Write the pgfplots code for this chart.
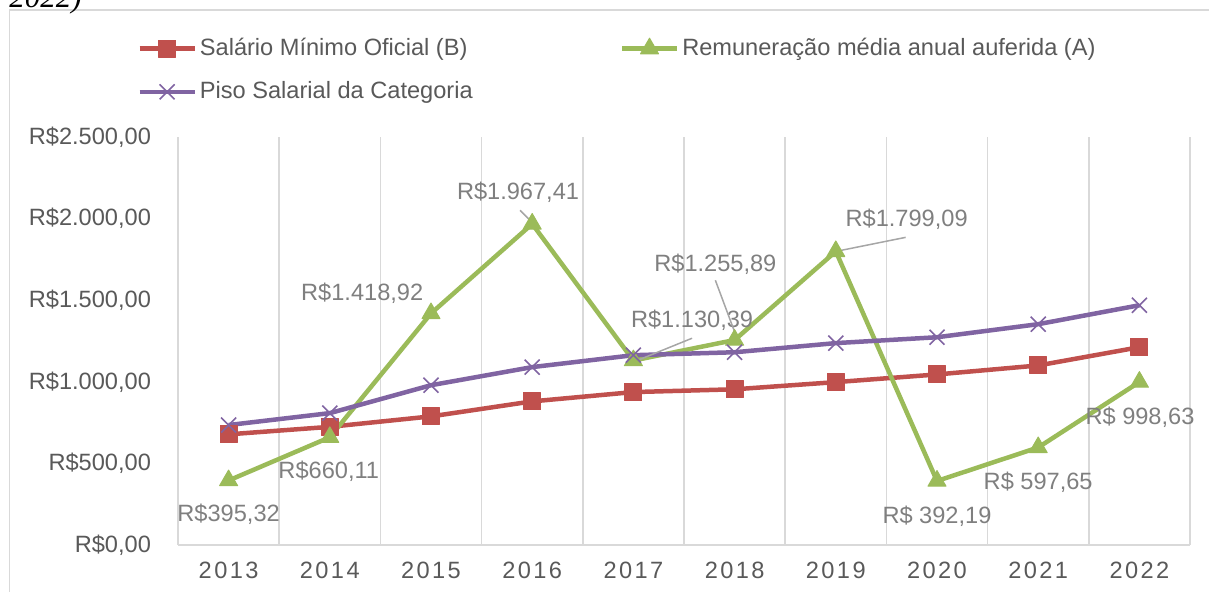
\documentclass[border=0pt]{standalone}
\usepackage{fontspec}
\setmainfont{Liberation Sans}
\newfontfamily\serifit{Liberation Serif}
\usepackage{pgfplots}
\pgfplotsset{compat=1.18}
\definecolor{cred}{HTML}{C0504D}
\definecolor{cgreen}{HTML}{9BBB59}
\definecolor{cpurple}{HTML}{8064A2}
\definecolor{gridc}{HTML}{D9D9D9}
\definecolor{ticktxt}{HTML}{595959}
\definecolor{lbltxt}{HTML}{7F7F7F}
\definecolor{leader}{HTML}{A6A6A6}
\newcommand{\yr}[4]{#1\kern1.2pt#2\kern1.2pt#3\kern1.2pt#4}
\begin{document}
\begin{tikzpicture}
\path[use as bounding box] (-89pt,-23.5pt) rectangle (515.5pt,272.5pt);
\draw[gridc, line width=0.75pt] (-84.25pt,-30pt) -- (-84.25pt,267.5pt) -- (530pt,267.5pt);
\node[anchor=base west, font=\serifit\itshape\fontsize{15.5}{18}\selectfont, inner sep=0pt] at (-84.5pt,268.5pt) {2022)};
\begin{axis}[
  at={(0pt,0pt)}, anchor=south west,
  scale only axis, width=506pt, height=204pt,
  xmin=-0.5, xmax=9.5, ymin=0, ymax=2500,
  axis line style={draw=none},
  xtick={0,1,2,3,4,5,6,7,8,9},
  xticklabels={\yr2013,\yr2014,\yr2015,\yr2016,\yr2017,\yr2018,\yr2019,\yr2020,\yr2021,\yr2022},
  minor xtick={-0.5,0.5,1.5,2.5,3.5,4.5,5.5,6.5,7.5,8.5,9.5},
  xminorgrids, minor grid style={gridc, line width=0.75pt},
  major tick length=0pt, minor tick length=0pt,
  ytick={0,500,1000,1500,2000,2500},
  yticklabels={{R\$0,00},{R\$500,00},{R\$1.000,00},{R\$1.500,00},{R\$2.000,00},{R\$2.500,00}},
  tick label style={font=\fontsize{11.8}{14}\selectfont, text=ticktxt},
  yticklabel style={xshift=-10pt},
  xticklabel style={yshift=-5pt},
  clip=false,
  legend columns=2,
  legend cell align=left,
  legend style={at={(-0.0405,1.250)}, anchor=north west, draw=none, fill=none,
    font=\fontsize{11.8}{14}\selectfont, text=ticktxt, row sep=8.5pt, inner sep=0pt,
    nodes={inner sep=1.5pt},
    /tikz/every even column/.append style={column sep=72pt}},
  legend image code/.code={\draw[mark repeat=2, mark phase=2, #1] plot coordinates {(0pt,0pt) (13.75pt,0pt) (27.5pt,0pt)};},
  every axis plot/.append style={line join=round},
]
\draw[gridc, line width=0.75pt] (rel axis cs:0,0) -- (rel axis cs:1,0);
\addplot[cred, line width=2.25pt, mark=square*, mark size=4.25pt, mark options={solid, line width=0.5pt}]
  coordinates {(0,678)(1,724)(2,788)(3,880)(4,937)(5,954)(6,998)(7,1045)(8,1100)(9,1212)};
\addlegendentry{Salário Mínimo Oficial (B)}
\addplot[cgreen, line width=2.25pt, mark=triangle*, mark size=5.2pt, mark options={solid, line width=0.5pt}]
  coordinates {(0,395.32)(1,660.11)(2,1418.92)(3,1967.41)(4,1130.39)(5,1255.89)(6,1799.09)(7,392.19)(8,597.65)(9,998.63)};
\addlegendentry{Remuneração média anual auferida (A)}
\addplot[cpurple, line width=2.25pt, mark=x, mark size=5.3pt, mark options={solid, line width=0.8pt}]
  coordinates {(0,735)(1,808)(2,979)(3,1090)(4,1163)(5,1181)(6,1237)(7,1273)(8,1353)(9,1469)};
\addlegendentry{Piso Salarial da Categoria}
\begin{scope}[every node/.style={font=\fontsize{11.8}{14}\selectfont, text=lbltxt, inner sep=0pt}]
\node at (axis cs:0,190) {R\$395,32};
\node at (axis cs:0.99,453) {R\$660,11};
\node at (axis cs:1.32,1543) {R\$1.418,92};
\node at (axis cs:2.86,2161) {R\$1.967,41};
\node at (axis cs:4.58,1377) {R\$1.130,39};
\node at (axis cs:4.81,1720) {R\$1.255,89};
\node at (axis cs:6.70,1996) {R\$1.799,09};
\node at (axis cs:7.0,178) {R\$ 392,19};
\node at (axis cs:8.0,386) {R\$ 597,65};
\node at (axis cs:9.006,784) {R\$ 998,63};
\end{scope}
\draw[leader, line width=0.75pt] (axis cs:2.88,2051) -- (axis cs:2.998,1977);
\draw[leader, line width=0.75pt] (axis cs:4.58,1267) -- (axis cs:3.996,1120);
\draw[leader, line width=0.75pt] (axis cs:4.81,1622) -- (axis cs:5.02,1273);
\draw[leader, line width=0.75pt] (axis cs:6.69,1885) -- (axis cs:6.01,1800);
\end{axis}
\end{tikzpicture}
\end{document}
